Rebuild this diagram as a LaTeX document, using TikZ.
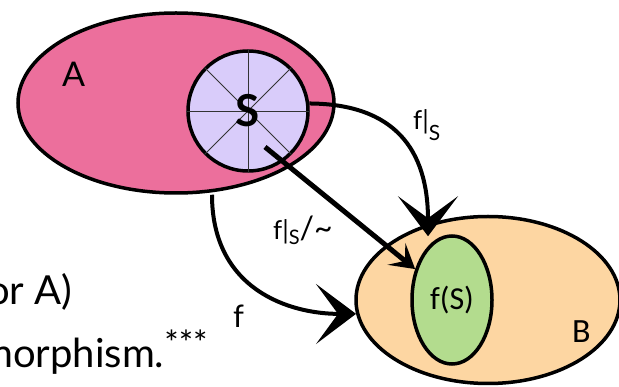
\documentclass[tikz,border=0pt]{standalone}
\usepackage{fontspec}
\setmainfont{Lato}
\newfontfamily\calibrifont{Carlito}
\usepackage{tikz}
\usetikzlibrary{positioning, arrows.meta, shapes.geometric, calc}
\definecolor{SetPink}{HTML}{EC6F9C}
\definecolor{SubLilac}{HTML}{D9CCFA}
\definecolor{CodPeach}{HTML}{FDD6A2}
\definecolor{ImgGreen}{HTML}{B3DC8E}

\begin{document}
\begin{tikzpicture}[
    x=1pt, y=-1pt,
    blob/.style={ellipse, draw=black, line width=3.5pt, inner sep=0pt},
    spoke/.style={draw=black!80, line width=0.8pt},
    map/.style={draw=black, line width=4pt, -{Stealth[length=40pt, width=60pt, inset=22pt]}},
    quot/.style={draw=black, line width=5pt, -{Stealth[length=24pt, width=28pt, inset=11pt]}},
    lbl/.style={font=\fontsize{26}{26}\selectfont, anchor=base west, inner sep=0pt},
    setname/.style={font=\fontsize{34}{34}\selectfont, anchor=base west, inner sep=0pt},
    slide/.style={font=\fontsize{40}{40}\selectfont, anchor=base west, inner sep=0pt}
]
\useasboundingbox (0,0) rectangle (619,387);
\clip (0,0) rectangle (619,387);

% Set A with the subset S
\node[blob, fill=SetPink, minimum width=316pt, minimum height=180pt] (A) at (176,103) {};
\node[setname] (Aname) at (62,87) {A};
\node[blob, circle, fill=SubLilac, minimum size=120pt] (S) at (248,111) {};
\foreach \ang in {0,45,...,315}
    \draw[spoke] (S.center) -- (S.\ang);
\node[font=\bfseries\fontsize{44}{44}\selectfont] (Sname) at (S.center) {S};

% Set B with the image f(S)
\node[blob, fill=CodPeach, minimum width=264pt, minimum height=167pt] (B) at (488,300) {};
\node[setname, font=\calibrifont\fontsize{34}{34}\selectfont] (Bname) at (572,343) {B};
\node[blob, fill=ImgGreen, minimum width=80pt, minimum height=128pt, font=\calibrifont\fontsize{32}{32}\selectfont] (fS) at (452,300) {f(S)};

% Maps
\draw[map] (S.7) .. controls (395,104) and (428,150) .. ($(fS.north)+(-24,2)$);
\draw[quot] ($(S.center)+(17,36)$) -- (fS.140);
\draw[map] ($(A.south)+(36,0)$) .. controls (212,290) and (290,314) .. (B.186);

% Labels
\node[lbl] (restr) at (413,130) {f|\raisebox{-11pt}{\fontsize{21}{21}\selectfont S}};
\node[lbl] (quotLbl) at (273,240) {f|\raisebox{-5pt}{\fontsize{20}{20}\selectfont S}\fontsize{32}{32}\selectfont/\textasciitilde};
\node[lbl, font=\fontsize{31}{31}\selectfont] (fLbl) at (233,328) {f};

% Slide text
\node[slide] (lineOne) at (-13,305) {or\hspace{0.25em}A)};
\node[slide] (lineTwo) at (-20,368) {morphism.\raisebox{12pt}{\fontsize{34}{34}\selectfont ***}};

\end{tikzpicture}
\end{document}
